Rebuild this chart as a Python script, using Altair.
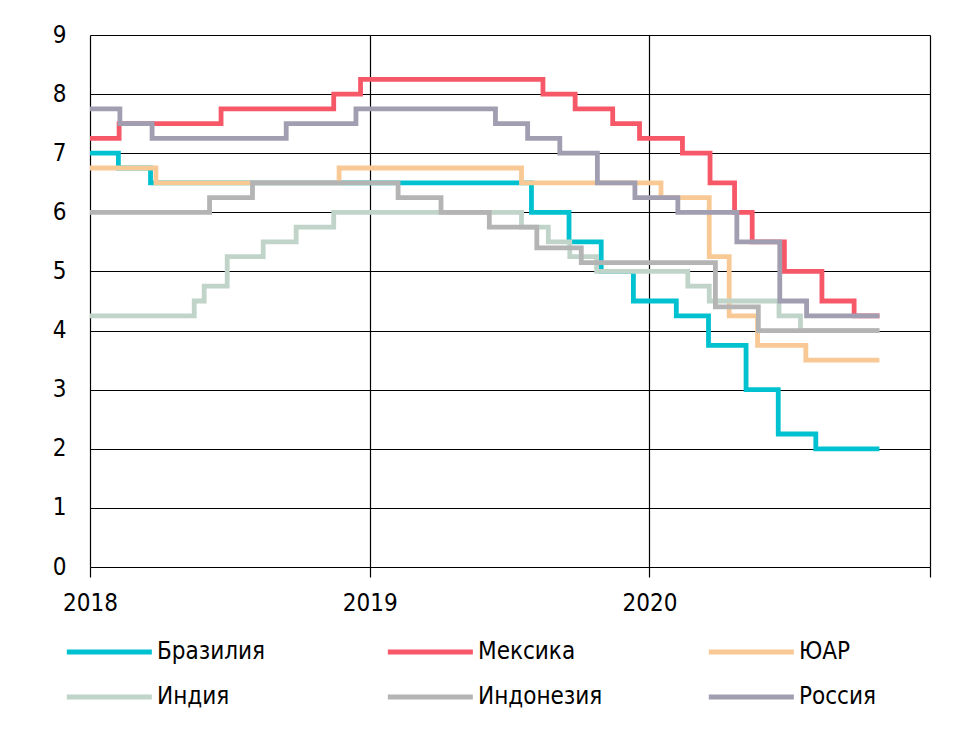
import altair as alt
import pandas as pd

series_names = ["Бразилия", "Мексика", "ЮАР", "Индия", "Индонезия", "Россия"]
series_colors = ["#00C1D0", "#F75868", "#F9C995", "#C0D4CA", "#B4B4B4", "#A09EB0"]

brazil_dates = ["2018-01-01", "2018-02-07", "2018-03-21", "2019-07-31", "2019-09-18", "2019-10-30",
                "2019-12-11", "2020-02-05", "2020-03-18", "2020-05-06", "2020-06-17", "2020-08-05", "2020-10-27"]
brazil_values = [7.0, 6.75, 6.5, 6.0, 5.5, 5.0, 4.5, 4.25, 3.75, 3.0, 2.25, 2.0, 2.0]

mexico_dates = ["2018-01-01", "2018-02-08", "2018-06-21", "2018-11-15", "2018-12-20", "2019-08-15",
                "2019-09-26", "2019-11-14", "2019-12-19", "2020-02-13", "2020-03-20", "2020-04-21",
                "2020-05-14", "2020-06-25", "2020-08-13", "2020-09-24", "2020-10-27"]
mexico_values = [7.25, 7.5, 7.75, 8.0, 8.25, 8.0, 7.75, 7.5, 7.25, 7.0, 6.5, 6.0, 5.5, 5.0, 4.5, 4.25, 4.25]

sa_dates = ["2018-01-01", "2018-03-28", "2018-11-22", "2019-07-18", "2020-01-16", "2020-03-19",
            "2020-04-14", "2020-05-21", "2020-07-23", "2020-10-27"]
sa_values = [6.75, 6.5, 6.75, 6.5, 6.25, 5.25, 4.25, 3.75, 3.5, 3.5]

india_dates = ["2018-01-01", "2018-05-17", "2018-05-30", "2018-06-29", "2018-08-15", "2018-09-27",
               "2018-11-15", "2019-07-18", "2019-08-22", "2019-09-19", "2019-10-24", "2020-02-20",
               "2020-03-19", "2020-06-18", "2020-07-16", "2020-10-27"]
india_values = [4.25, 4.5, 4.75, 5.25, 5.5, 5.75, 6.0, 5.75, 5.5, 5.25, 5.0, 4.75, 4.5, 4.25, 4.0, 4.0]

indonesia_dates = ["2018-01-01", "2018-06-06", "2018-08-01", "2019-02-07", "2019-04-04", "2019-06-06",
                   "2019-08-07", "2019-10-04", "2020-03-27", "2020-05-22", "2020-10-27"]
indonesia_values = [6.0, 6.25, 6.5, 6.25, 6.0, 5.75, 5.4, 5.15, 4.4, 4.0, 4.0]

russia_dates = ["2018-01-01", "2018-02-09", "2018-03-23", "2018-09-14", "2018-12-14", "2019-06-14",
                "2019-07-26", "2019-09-06", "2019-10-25", "2019-12-13", "2020-02-07", "2020-04-24",
                "2020-06-19", "2020-07-24", "2020-10-27"]
russia_values = [7.75, 7.5, 7.25, 7.5, 7.75, 7.5, 7.25, 7.0, 6.5, 6.25, 6.0, 5.5, 4.5, 4.25, 4.25]

year_ticks = [2018, 2019, 2020, 2021]
y_ticks = list(range(0, 10))

all_dates = [brazil_dates, mexico_dates, sa_dates, india_dates, indonesia_dates, russia_dates]
all_values = [brazil_values, mexico_values, sa_values, india_values, indonesia_values, russia_values]

rows = []
for name, ds, vs in zip(series_names, all_dates, all_values):
    for d, v in zip(ds, vs):
        rows.append({"date": d, "rate": v, "country": name})
df = pd.DataFrame(rows)

FONT = "DejaVu Sans Condensed"

x_values = [alt.DateTime(year=y, month=1, date=1, utc=True) for y in year_ticks]

chart = alt.Chart(df).mark_line(interpolate="step-after", strokeWidth=4.8, strokeCap="butt").encode(
    x=alt.X("date:T",
            scale=alt.Scale(type="utc", domain=[x_values[0], x_values[-1]], nice=False),
            axis=alt.Axis(title=None, values=x_values, grid=True, gridColor="black", gridWidth=1.2,
                          gridOpacity=1, domain=False, ticks=True, tickSize=10, tickColor="black",
                          tickWidth=1.2, labelFontSize=24, labelFont=FONT, labelColor="black",
                          labelPadding=14, labelAngle=0, labelAlign="center",
                          labelExpr="utcFormat(datum.value, '%Y') == '2021' ? '' : utcFormat(datum.value, '%Y')")),
    y=alt.Y("rate:Q",
            scale=alt.Scale(domain=[0, 9], nice=False, zero=True),
            axis=alt.Axis(title=None, values=y_ticks, grid=True, gridColor="black", gridWidth=1.2,
                          gridOpacity=1, domain=False, ticks=False, labelFontSize=24, labelFont=FONT,
                          labelColor="black", labelPadding=24)),
    color=alt.Color("country:N",
                    scale=alt.Scale(domain=series_names, range=series_colors),
                    sort=series_names,
                    legend=alt.Legend(orient="none", legendX=-26, legendY=600, columns=3, title=None,
                                      direction="horizontal",
                                      symbolType="M-1,0H5", symbolSize=803, symbolStrokeWidth=5,
                                      labelFontSize=24, labelFont=FONT, labelColor="black",
                                      gridAlign="all", columnPadding=95, rowPadding=16, labelOffset=59,
                                      labelLimit=300)),
).properties(
    width=840, height=532,
    autosize=alt.AutoSizeParams(type="none"),
    padding={"left": 82, "top": 27, "right": 18, "bottom": 170},
).configure_view(stroke=None)

chart.save("out.html", embed_options={"renderer": "svg", "actions": False})
